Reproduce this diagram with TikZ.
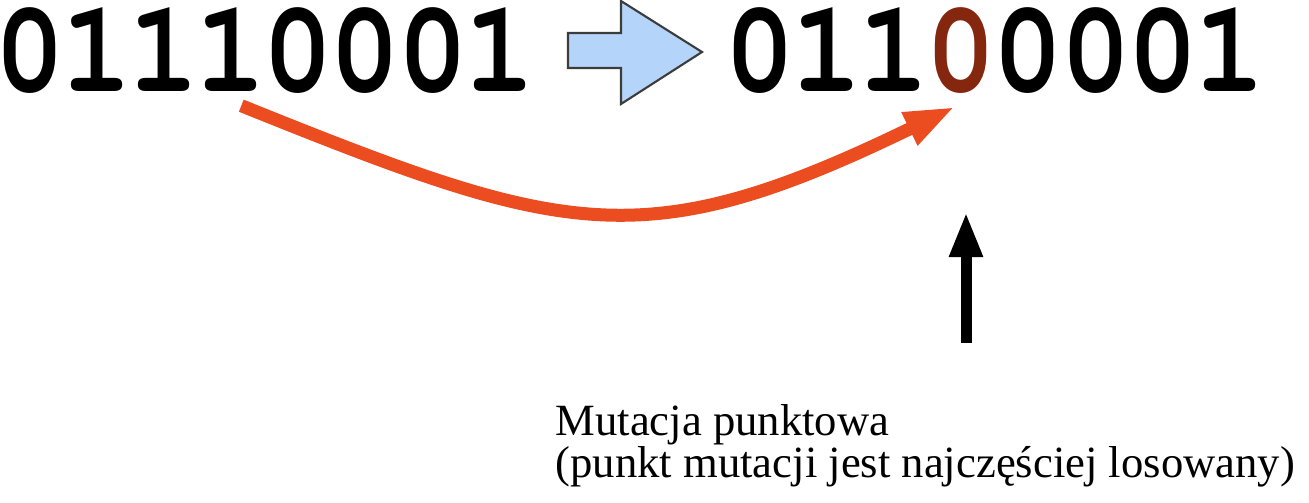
\documentclass[tikz,border=0pt]{standalone}
\usepackage{fontspec}
\setmainfont{Liberation Serif}
\newfontfamily\bitfont[FakeStretch=0.9]{TeX Gyre Cursor}
\usepackage{xcolor}
\usetikzlibrary{arrows.meta,calc}

\definecolor{shiftblue}{RGB}{180,212,250}
\definecolor{shiftedge}{RGB}{60,60,60}
\definecolor{mutorange}{RGB}{235,76,32}
\definecolor{mutred}{RGB}{133,38,15}

\begin{document}
\begin{tikzpicture}[x=0.01cm, y=-0.01cm,
    bit/.style={inner sep=0pt, anchor=base, font=\bitfont\bfseries\fontsize{37.4}{38}\selectfont},
    shiftarrow/.style={fill=shiftblue, draw=shiftedge, line width=0.6pt, line join=miter},
    jump/.style={draw=mutorange, line width=0.13cm, -{Triangle[length=0.51cm, width=0.33cm]}},
    pointer/.style={draw=black, line width=0.11cm, -{Triangle[length=0.45cm, width=0.31cm]}},
    note/.style={inner sep=0pt, anchor=base west, align=left, font=\fontsize{12.7}{11.7}\selectfont}]
    \useasboundingbox (0,0) rectangle (1309,503);

    % Bit strings
    \foreach \d [count=\i from 0] in {0,1,1,1,0,0,0,1}
        \node[bit] (b\i) at (30+67.1*\i,91) {\d};
    \foreach \d [count=\i from 0] in {0,1,1,{\textcolor{mutred}{0}},0,0,0,1}
        \node[bit] (a\i) at (760+67.1*\i,91) {\d};

    % Shift arrow
    \draw[shiftarrow] (568,33) -- (621,33) -- (621,1) -- (702,52) -- (621,104) -- (621,68) -- (568,68) -- cycle;

    % Mutation jump
    \coordinate (src) at ($(b3.south)+(10,14)$);
    \coordinate (dst) at ($(a3.south)+(-6,13)$);
    \draw[jump] (src) .. controls +(323,130) and +(-313,152) .. (dst);

    % Pointer to mutation point
    \coordinate (base) at (966,343);
    \coordinate (spot) at (966,212);
    \draw[pointer] (base) -- (spot);

    % Note
    \node[note] (note) at (555,477) {Mutacja punktowa\\(punkt mutacji jest najczęściej losowany)};
\end{tikzpicture}
\end{document}
